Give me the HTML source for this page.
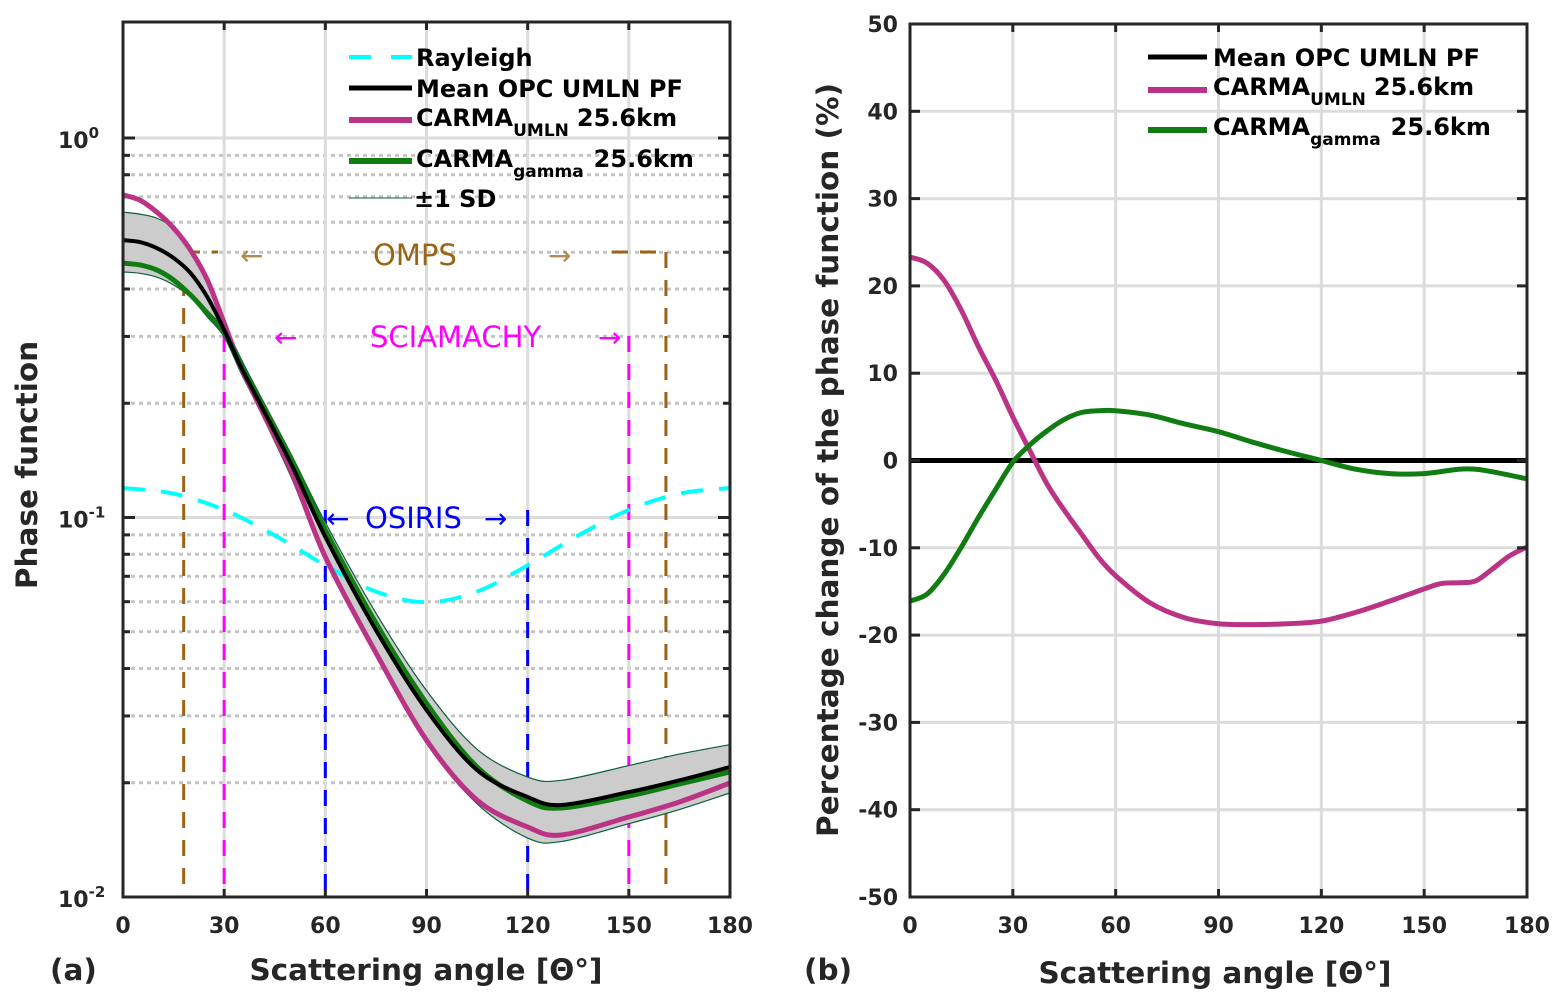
<!DOCTYPE html>
<html><head><meta charset="utf-8">
<style>
body{margin:0;background:#fff;}
svg{display:block;font-family:"DejaVu Sans","Liberation Sans",sans-serif;}
.tk{font-size:22px;font-weight:bold;fill:#262626;}
.lab{font-size:29.5px;font-weight:bold;fill:#262626;}
.leg{font-size:24px;font-weight:bold;fill:#000;}
</style></head>
<body>
<svg id="fig" width="1568" height="1003" viewBox="0 0 1568 1003">
<g id="gA"></g>
<g id="gB"></g>
</svg>
<script>
// ---------- Panel (a) data ----------
const angA = [0,5,10,15,20,25,30,35,40,50,60,75,90,105,120,130,150,165,180];
const meanPF = [0.538,0.532,0.513,0.483,0.441,0.381,0.312,0.249,0.2045,0.1376,0.0889,0.0505,0.0311,0.0216,0.01834,0.01748,0.0189,0.0203,0.0220];
const carmaUmln = [0.708,0.686,0.638,0.579,0.507,0.4226,0.3254,0.249,0.201,0.1318,0.0787,0.0440,0.0259,0.0180,0.01529,0.01457,0.01625,0.0178,0.01997];
const carmaGamma = [0.468,0.463,0.449,0.4226,0.386,0.3458,0.308,0.252,0.208,0.1418,0.0927,0.0527,0.0324,0.0220,0.0179,0.01716,0.01846,0.01985,0.02135];
const sdUpper = [0.638,0.630,0.615,0.579,0.516,0.4226,0.3254,0.262,0.215,0.146,0.097,0.056,0.0350,0.0245,0.0207,0.0203,0.0222,0.0238,0.0252];
const sdLower = [0.4436,0.440,0.430,0.41,0.381,0.3376,0.299,0.240,0.196,0.127,0.077,0.0432,0.0254,0.0176,0.0143,0.0140,0.0156,0.0170,0.0188];
const angRay = [0,15,30,45,60,75,90,105,120,135,150,165,180];
const rayleigh = [0.1196,0.1156,0.1047,0.0897,0.0748,0.0638,0.0598,0.0638,0.0748,0.0897,0.1047,0.1156,0.1196];
const xTicks = [0,30,60,90,120,150,180];
const yDecades = [-2,-1,0];
// ---------- Panel (b) data ----------
const angB = [0,5,10,15,20,25,30,35,40,45,50,55,60,70,80,90,100,110,120,130,140,150,155,160,165,170,175,180];
const pctUmln = [23.3,22.6,20.6,17.2,13.0,9.2,5.0,1.1,-2.7,-5.7,-8.4,-11.1,-13.2,-16.3,-18.0,-18.7,-18.8,-18.7,-18.4,-17.4,-16.1,-14.7,-14.1,-14.0,-13.8,-12.4,-10.9,-9.9];
const angG = [0,5,10,15,20,25,30,35,40,45,50,55,60,70,80,90,100,110,120,130,140,150,160,165,170,180];
const pctGamma = [-16.1,-15.3,-13.0,-9.9,-6.5,-3.3,-0.2,1.8,3.4,4.7,5.5,5.7,5.7,5.2,4.2,3.3,2.1,1.0,0,-1.0,-1.5,-1.5,-1.0,-1.0,-1.3,-2.1];
const pctMean = [0,0];
const angMean = [0,180];
const yTicksB = [50,40,30,20,10,0,-10,-20,-30,-40,-50];

const NS="http://www.w3.org/2000/svg";
function mk(parent,tag,attrs){const e=document.createElementNS(NS,tag);for(const k in attrs)e.setAttribute(k,attrs[k]);parent.appendChild(e);return e;}
function crPath(pts,move){
  let d=move?`M${pts[0][0]},${pts[0][1]}`:`L${pts[0][0]},${pts[0][1]}`;
  for(let i=0;i<pts.length-1;i++){
    const p0=pts[Math.max(0,i-1)],p1=pts[i],p2=pts[i+1],p3=pts[Math.min(pts.length-1,i+2)];
    const c1=[p1[0]+(p2[0]-p0[0])/6,p1[1]+(p2[1]-p0[1])/6];
    const c2=[p2[0]-(p3[0]-p1[0])/6,p2[1]-(p3[1]-p1[1])/6];
    d+=` C${c1[0].toFixed(2)},${c1[1].toFixed(2)} ${c2[0].toFixed(2)},${c2[1].toFixed(2)} ${p2[0].toFixed(2)},${p2[1].toFixed(2)}`;
  }
  return d;
}
function txt(g,x,y,s,attrs,name){const t=mk(g,'text',Object.assign({x:x,y:y},attrs));t.textContent=s;
  
  return t;}

// ================= Panel A =================
const A={x0:123,x1:730,y0:22,y1:897};
const xA=a=>A.x0+a/180*(A.x1-A.x0);
const yA=v=>A.y1-(Math.log10(v)+2)*379.5;
const gA=document.getElementById('gA');
const clipA=mk(gA,'clipPath',{id:'clA'});mk(clipA,'rect',{x:A.x0,y:A.y0,width:A.x1-A.x0,height:A.y1-A.y0});
for(const dec of [-2,-1,0]){for(let m=2;m<=9;m++){const v=m*Math.pow(10,dec);const y=yA(v);if(y<A.y0+5)continue;
  const l=mk(gA,'line',{x1:A.x0,x2:A.x1,y1:y,y2:y,stroke:'#c4c4c4','stroke-width':3,'stroke-dasharray':'4 4'});
  
  
  for(const xx of [A.x0,A.x1-7]){mk(gA,'line',{x1:xx,x2:xx+7,y1:y,y2:y,stroke:'#262626','stroke-width':3});}
}}
for(const a of xTicks.slice(1,-1)){const l=mk(gA,'line',{x1:xA(a),x2:xA(a),y1:A.y0,y2:A.y1,stroke:'#dcdcdc','stroke-width':3});
  
  }
for(const d of [-1,0]){const y=yA(Math.pow(10,d));const l=mk(gA,'line',{x1:A.x0,x2:A.x1,y1:y,y2:y,stroke:'#dcdcdc','stroke-width':3});
  
  }
const inst=[[18,'#9b6414',252],[161,'#9b6414',252],[30,'#ff00ff',336],[150,'#ff00ff',336],[60,'#0000ff',510],[120,'#0000ff',510]];
for(const [a,c,yt] of inst){const l=mk(gA,'line',{x1:xA(a),x2:xA(a),y1:yt,y2:A.y1,stroke:c,'stroke-width':3,'stroke-dasharray':'16 12'});
  
  }
mk(gA,'line',{x1:184,x2:218,y1:252,y2:252,stroke:'#9b6414','stroke-width':3,'stroke-dasharray':'16 12'});
mk(gA,'line',{x1:612,x2:667,y1:252,y2:252,stroke:'#9b6414','stroke-width':3,'stroke-dasharray':'16 12'});
txt(gA,240,265,'←',{'font-size':28,fill:'#b38a50'},'omps-arrow-left');
txt(gA,373,265,'OMPS',{'font-size':29,fill:'#9b6414'},'omps-label');
txt(gA,548,265,'→',{'font-size':28,fill:'#b38a50'},'omps-arrow-right');
txt(gA,274,347,'←',{'font-size':28,fill:'#ff00ff'},'sciamachy-arrow-left');
txt(gA,370,347,'SCIAMACHY',{'font-size':29,fill:'#ff00ff'},'sciamachy-label');
txt(gA,598,347,'→',{'font-size':28,fill:'#ff00ff'},'sciamachy-arrow-right');
txt(gA,326,528,'←',{'font-size':28,fill:'#0000ff'},'osiris-arrow-left');
txt(gA,365,528,'OSIRIS',{'font-size':29,fill:'#0000ff'},'osiris-label');
txt(gA,484,528,'→',{'font-size':28,fill:'#0000ff'},'osiris-arrow-right');
const dA=mk(gA,'g',{'clip-path':'url(#clA)'});
const up=angA.map((a,i)=>[xA(a),yA(sdUpper[i])]);
const lo=angA.map((a,i)=>[xA(a),yA(sdLower[i])]).reverse();
const band=mk(dA,'path',{d:crPath(up,true)+' '+crPath(lo,false)+' Z',fill:'#cccccc',stroke:'#0b5e3a','stroke-width':1.2});


const ray=mk(dA,'path',{d:crPath(angRay.map((a,i)=>[xA(a),yA(rayleigh[i])]),true),fill:'none',stroke:'#00ffff','stroke-width':4,'stroke-dasharray':'22 16'});


const cu=mk(dA,'path',{d:crPath(angA.map((a,i)=>[xA(a),yA(carmaUmln[i])]),true),fill:'none',stroke:'#bb3385','stroke-width':5});


const cg=mk(dA,'path',{d:crPath(angA.map((a,i)=>[xA(a),yA(carmaGamma[i])]),true),fill:'none',stroke:'#117c11','stroke-width':5});


const mn=mk(dA,'path',{d:crPath(angA.map((a,i)=>[xA(a),yA(meanPF[i])]),true),fill:'none',stroke:'#000','stroke-width':4});


for(const a of xTicks){const x=xA(a);
  mk(gA,'line',{x1:x,x2:x,y1:A.y1,y2:A.y1-8,stroke:'#262626','stroke-width':3});
  mk(gA,'line',{x1:x,x2:x,y1:A.y0,y2:A.y0+8,stroke:'#262626','stroke-width':3});
  txt(gA,x,933,String(a),{'text-anchor':'middle',class:'tk'},'x-tick-label');}
for(const d of yDecades){const y=yA(Math.pow(10,d));
  mk(gA,'line',{x1:A.x0,x2:A.x0+12,y1:y,y2:y,stroke:'#262626','stroke-width':3});
  mk(gA,'line',{x1:A.x1-12,x2:A.x1,y1:y,y2:y,stroke:'#262626','stroke-width':3});
  const t=txt(gA,58,y+10,'10',{class:'tk'},'y-tick-label');
  const s=mk(t,'tspan',{dy:-10,'font-size':15});s.textContent=String(d);}
const boxA=mk(gA,'rect',{x:A.x0,y:A.y0,width:A.x1-A.x0,height:A.y1-A.y0,fill:'none',stroke:'#262626','stroke-width':3});


const legA=mk(gA,'g',{});


mk(legA,'line',{x1:349,x2:412,y1:57,y2:57,stroke:'#00ffff','stroke-width':4,'stroke-dasharray':'22 20'});
txt(legA,416,66,'Rayleigh',{class:'leg'},'legend-entry');
mk(legA,'line',{x1:349,x2:412,y1:88,y2:88,stroke:'#000','stroke-width':5});
txt(legA,416,97,'Mean OPC UMLN PF',{class:'leg'},'legend-entry');
mk(legA,'line',{x1:349,x2:412,y1:120,y2:120,stroke:'#bb3385','stroke-width':6});
let t1=txt(legA,416,126,'CARMA',{class:'leg'},'legend-entry');
let s1=mk(t1,'tspan',{dy:10,'font-size':17});s1.textContent='UMLN';
let s2=mk(t1,'tspan',{dy:-10,dx:8});s2.textContent='25.6km';
mk(legA,'line',{x1:349,x2:412,y1:161,y2:161,stroke:'#117c11','stroke-width':6});
let t2=txt(legA,416,167,'CARMA',{class:'leg'},'legend-entry');
let s3=mk(t2,'tspan',{dy:10,'font-size':17});s3.textContent='gamma';
let s4=mk(t2,'tspan',{dy:-10,dx:10});s4.textContent='25.6km';
mk(legA,'line',{x1:349,x2:412,y1:198,y2:198,stroke:'#0b5e3a','stroke-width':1});
txt(legA,414,207,'±1 SD',{class:'leg'},'legend-entry');
txt(gA,426,980,'Scattering angle [Θ°]',{'text-anchor':'middle',class:'lab'},'x-axis-title');
txt(gA,0,0,'Phase function',{'text-anchor':'middle',class:'lab',transform:'translate(37,465) rotate(-90)'},'y-axis-title');
txt(gA,50,980,'(a)',{class:'lab','font-size':33},'panel-a-label');

// ================= Panel B =================
const B={x0:910,x1:1527,y0:24,y1:897};
const xB=a=>B.x0+a/180*(B.x1-B.x0);
const yB=v=>B.y0+(50-v)/100*(B.y1-B.y0);
const gB=document.getElementById('gB');
for(const a of xTicks.slice(1,-1)){const l=mk(gB,'line',{x1:xB(a),x2:xB(a),y1:B.y0,y2:B.y1,stroke:'#dcdcdc','stroke-width':3});
  
  }
for(const v of yTicksB.slice(1,-1)){const l=mk(gB,'line',{x1:B.x0,x2:B.x1,y1:yB(v),y2:yB(v),stroke:'#dcdcdc','stroke-width':3});
  
  }
const pm=mk(gB,'path',{d:crPath(angMean.map((a,i)=>[xB(a),yB(pctMean[i])]),true),fill:'none',stroke:'#000','stroke-width':5});


const pu=mk(gB,'path',{d:crPath(angB.map((a,i)=>[xB(a),yB(pctUmln[i])]),true),fill:'none',stroke:'#bb3385','stroke-width':5});


const pg=mk(gB,'path',{d:crPath(angG.map((a,i)=>[xB(a),yB(pctGamma[i])]),true),fill:'none',stroke:'#117c11','stroke-width':5});


for(const a of xTicks){const x=xB(a);
  mk(gB,'line',{x1:x,x2:x,y1:B.y1,y2:B.y1-8,stroke:'#262626','stroke-width':3});
  mk(gB,'line',{x1:x,x2:x,y1:B.y0,y2:B.y0+8,stroke:'#262626','stroke-width':3});
  txt(gB,x,933,String(a),{'text-anchor':'middle',class:'tk'},'x-tick-label');}
for(const v of yTicksB){const y=yB(v);
  mk(gB,'line',{x1:B.x0,x2:B.x0+10,y1:y,y2:y,stroke:'#262626','stroke-width':3});
  mk(gB,'line',{x1:B.x1-10,x2:B.x1,y1:y,y2:y,stroke:'#262626','stroke-width':3});
  txt(gB,898,y+8,String(v),{'text-anchor':'end',class:'tk'},'y-tick-label');}
const boxB=mk(gB,'rect',{x:B.x0,y:B.y0,width:B.x1-B.x0,height:B.y1-B.y0,fill:'none',stroke:'#262626','stroke-width':3});


const legB=mk(gB,'g',{});


mk(legB,'line',{x1:1148,x2:1207,y1:57,y2:57,stroke:'#000','stroke-width':5});
txt(legB,1213,66,'Mean OPC UMLN PF',{class:'leg'},'legend-entry');
mk(legB,'line',{x1:1148,x2:1207,y1:90,y2:90,stroke:'#bb3385','stroke-width':6});
let t3=txt(legB,1213,95,'CARMA',{class:'leg'},'legend-entry');
let s5=mk(t3,'tspan',{dy:10,'font-size':17});s5.textContent='UMLN';
let s6=mk(t3,'tspan',{dy:-10,dx:8});s6.textContent='25.6km';
mk(legB,'line',{x1:1148,x2:1207,y1:130,y2:130,stroke:'#117c11','stroke-width':6});
let t4=txt(legB,1213,135,'CARMA',{class:'leg'},'legend-entry');
let s7=mk(t4,'tspan',{dy:10,'font-size':17});s7.textContent='gamma';
let s8=mk(t4,'tspan',{dy:-10,dx:10});s8.textContent='25.6km';
txt(gB,1215,983,'Scattering angle [Θ°]',{'text-anchor':'middle',class:'lab'},'x-axis-title');
txt(gB,0,0,'Percentage change of the phase function (%)',{'text-anchor':'middle',class:'lab',transform:'translate(838,460) rotate(-90)'},'y-axis-title');
txt(gB,804,980,'(b)',{class:'lab','font-size':33},'panel-b-label');
</script>
</body></html>
